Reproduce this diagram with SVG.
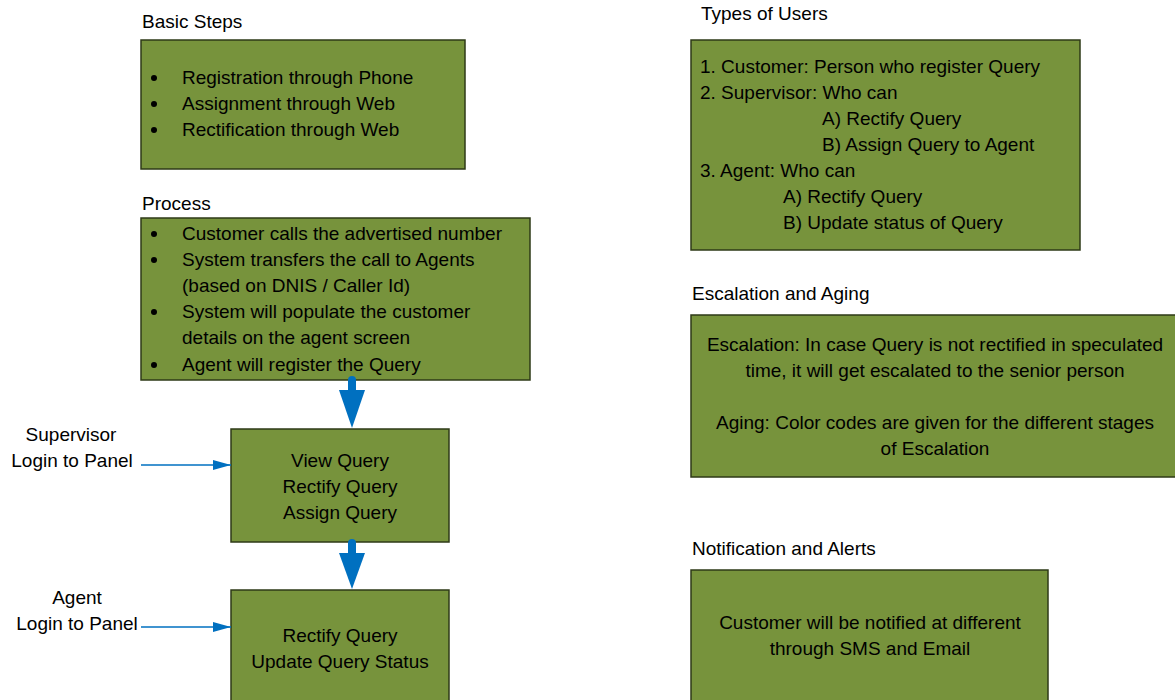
<svg xmlns="http://www.w3.org/2000/svg" width="1175" height="700" viewBox="0 0 1175 700">
<defs>
<style>
.box{fill:#77933C;stroke:#2e3a17;stroke-width:1.5}
.t{font-family:"Liberation Sans",Arial,sans-serif;font-size:19px;fill:#000}
.c{text-anchor:middle}
.thick{stroke:#0070C0;stroke-width:8;stroke-linecap:round;fill:none}
.thin{stroke:#0070C0;stroke-width:1.5;fill:none}
.head{fill:#0070C0}
</style>
<marker id="ah" markerWidth="18" markerHeight="10" refX="18" refY="5" orient="auto" markerUnits="userSpaceOnUse">
<path d="M0,0 L18,5 L0,10 Z" fill="#0070C0"/>
</marker>
</defs>
<rect width="1175" height="700" fill="#fff"/>

<g id="basic-steps">
<text class="t" x="142" y="28">Basic Steps</text>
<rect class="box" x="141" y="40" width="324" height="129"/>
<circle cx="154" cy="78" r="3"/><circle cx="154" cy="104" r="3"/><circle cx="154" cy="130" r="3"/>
<text class="t" x="182" y="84">Registration through Phone</text>
<text class="t" x="182" y="110">Assignment through Web</text>
<text class="t" x="182" y="136">Rectification through Web</text>
</g>

<g id="process">
<text class="t" x="142" y="210">Process</text>
<rect class="box" x="141" y="218" width="389" height="162"/>
<circle cx="154" cy="234" r="3"/><circle cx="154" cy="260" r="3"/><circle cx="154" cy="312" r="3"/><circle cx="154" cy="365" r="3"/>
<text class="t" x="182" y="240">Customer calls the advertised number</text>
<text class="t" x="182" y="266">System transfers the call to Agents</text>
<text class="t" x="182" y="292">(based on DNIS / Caller Id)</text>
<text class="t" x="182" y="318">System will populate the customer</text>
<text class="t" x="182" y="344">details on the agent screen</text>
<text class="t" x="182" y="371">Agent will register the Query</text>
</g>

<g id="supervisor-panel">
<rect class="box" x="231" y="429" width="218" height="113"/>
<text class="t c" x="340" y="467">View Query</text>
<text class="t c" x="340" y="493">Rectify Query</text>
<text class="t c" x="340" y="519">Assign Query</text>
</g>

<g id="agent-panel">
<rect class="box" x="231" y="590" width="218" height="120"/>
<text class="t c" x="340" y="642">Rectify Query</text>
<text class="t c" x="340" y="668">Update Query Status</text>
</g>

<g id="supervisor-label">
<text class="t c" x="71" y="441">Supervisor</text>
<text class="t c" x="72" y="467">Login to Panel</text>
</g>

<g id="agent-label">
<text class="t c" x="77" y="604">Agent</text>
<text class="t c" x="77" y="630">Login to Panel</text>
</g>

<g id="types-of-users">
<text class="t" x="701" y="20">Types of Users</text>
<rect class="box" x="691" y="40" width="389" height="210"/>
<text class="t" x="700" y="73">1. Customer: Person who register Query</text>
<text class="t" x="700" y="99">2. Supervisor: Who can</text>
<text class="t" x="822" y="125">A) Rectify Query</text>
<text class="t" x="822" y="151">B) Assign Query to Agent</text>
<text class="t" x="700" y="177">3. Agent: Who can</text>
<text class="t" x="783" y="203">A) Rectify Query</text>
<text class="t" x="783" y="229">B) Update status of Query</text>
</g>

<g id="escalation">
<text class="t" x="692" y="300">Escalation and Aging</text>
<rect class="box" x="691" y="315" width="490" height="162"/>
<text class="t c" x="935" y="351">Escalation: In case Query is not rectified in speculated</text>
<text class="t c" x="935" y="377">time, it will get escalated to the senior person</text>
<text class="t c" x="935" y="429">Aging: Color codes are given for the different stages</text>
<text class="t c" x="935" y="455">of Escalation</text>
</g>

<g id="notification">
<text class="t" x="692" y="555">Notification and Alerts</text>
<rect class="box" x="691" y="570" width="357" height="140"/>
<text class="t c" x="870" y="629">Customer will be notified at different</text>
<text class="t c" x="870" y="655">through SMS and Email</text>
</g>

<g id="connectors">
<line class="thick" x1="352" y1="380" x2="352" y2="392"/>
<path class="head" d="M339,390 L365,390 L352,428 Z"/>
<line class="thick" x1="352" y1="543" x2="352" y2="555"/>
<path class="head" d="M339,553 L365,553 L352,589 Z"/>
<line class="thin" x1="141" y1="465" x2="231" y2="465" marker-end="url(#ah)"/>
<line class="thin" x1="141" y1="627" x2="231" y2="627" marker-end="url(#ah)"/>
</g>
</svg>
